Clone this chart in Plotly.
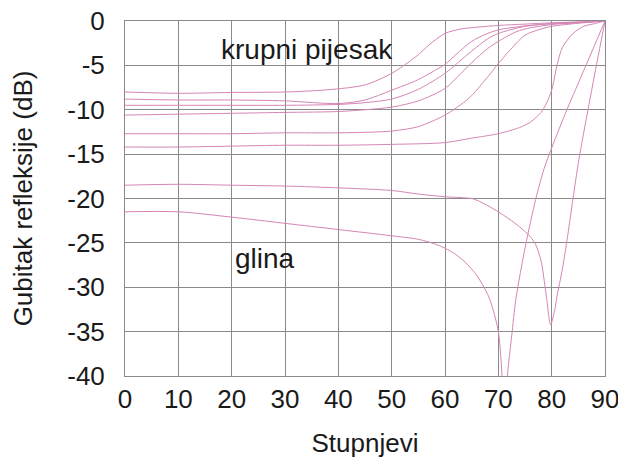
import plotly.graph_objects as go

# Angles (degrees) and reflection loss (dB) for each curve
a_x = [0, 10, 20, 30, 38, 45, 50, 53, 55, 57, 60, 63, 66, 70, 75, 80, 85, 90]
a_y = [-8.0, -8.15, -8.05, -8.0, -7.75, -7.2, -5.9, -4.7, -3.8, -2.7, -1.4, -0.9, -0.7, -0.5, -0.35, -0.2, -0.1, 0]

b_x = [0, 10, 20, 30, 40, 45, 50, 55, 58, 60, 62, 65, 68, 70, 75, 80, 85, 90]
b_y = [-8.8, -8.9, -8.9, -9.0, -9.3, -8.9, -7.8, -6.6, -5.6, -4.9, -3.8, -2.3, -1.4, -1.0, -0.55, -0.3, -0.15, 0]

c_x = [0, 10, 20, 30, 40, 45, 50, 55, 60, 63, 65, 68, 70, 75, 80, 85, 90]
c_y = [-9.5, -9.5, -9.5, -9.5, -9.4, -9.2, -8.8, -7.7, -5.9, -4.4, -3.4, -2.0, -1.4, -0.6, -0.3, -0.15, 0]

d_x = [0, 10, 20, 30, 40, 45, 50, 55, 60, 63, 65, 68, 70, 73, 75, 80, 85, 90]
d_y = [-10.6, -10.5, -10.4, -10.3, -10.2, -10.0, -9.7, -9.0, -7.6, -5.9, -4.7, -3.1, -2.3, -1.3, -0.9, -0.4, -0.2, 0]

e_x = [0, 10, 20, 30, 40, 50, 55, 60, 63, 65, 68, 70, 72, 75, 78, 80, 85, 90]
e_y = [-12.7, -12.7, -12.7, -12.6, -12.6, -12.4, -11.9, -10.6, -9.4, -8.4, -6.3, -4.8, -3.4, -1.6, -0.9, -0.6, -0.25, 0]

f_x = [0, 10, 20, 30, 40, 50, 60, 65, 70, 74, 76, 78, 79, 80, 81, 82, 84, 86, 88, 90]
f_y = [-14.2, -14.2, -14.1, -14.0, -14.0, -13.9, -13.7, -13.2, -12.7, -12.0, -11.4, -10.3, -9.3, -7.8, -5.0, -3.0, -1.4, -0.6, -0.3, 0]

g_x = [0, 10, 20, 30, 40, 50, 55, 60, 63, 65, 66, 68, 70, 72, 74, 76, 77, 78, 79, 79.8, 80.6, 81, 82, 83, 84, 85, 86, 87, 88, 89, 90]
g_y = [-18.5, -18.4, -18.5, -18.6, -18.8, -19.1, -19.5, -19.8, -19.9, -20.0, -20.2, -20.8, -21.5, -22.3, -23.2, -24.3, -25.2, -27.0, -31.0, -34.2, -32.5, -31.0, -28.0, -24.2, -20.0, -16.0, -12.6, -9.4, -6.2, -3.1, 0]

h_x = [0, 10, 20, 30, 40, 50, 55, 58, 60, 62, 64, 66, 68, 69, 70, 70.6, 71.1, 71.7, 72.5, 73.3, 75.1, 77, 78.6, 80, 83, 86, 90]
h_y = [-21.5, -21.5, -22.1, -22.8, -23.5, -24.2, -24.6, -25.1, -25.6, -26.3, -27.3, -28.7, -30.8, -32.5, -35.0, -39.0, -46.0, -40.0, -35.5, -31.3, -25.3, -20.1, -16.6, -14.3, -9.8, -5.6, 0]

curves = [(a_x, a_y), (b_x, b_y), (c_x, c_y), (d_x, d_y), (e_x, e_y), (f_x, f_y), (g_x, g_y), (h_x, h_y)]

x_ticks = [0, 10, 20, 30, 40, 50, 60, 70, 80, 90]
y_ticks = [0, -5, -10, -15, -20, -25, -30, -35, -40]

labels = [("krupni pijesak", 34.2, -3.2), ("glina", 26.2, -26.8)]

FONT = "Arial, Liberation Sans, sans-serif"
LINE_COLOR = "#d585b6"
GRID = "#8a8a8a"

fig = go.Figure()
for xs, ys in curves:
    fig.add_trace(go.Scatter(x=xs, y=ys, mode="lines",
                             line=dict(color=LINE_COLOR, width=1, shape="spline", smoothing=0.8),
                             showlegend=False, hoverinfo="skip"))

for text, lx, ly in labels:
    fig.add_annotation(x=lx, y=ly, text=text, showarrow=False,
                       font=dict(family=FONT, size=28, color="#1a1a1a"),
                       xanchor="center", yanchor="middle")

fig.update_layout(
    width=618, height=459,
    margin=dict(l=125, r=13, t=21, b=83, autoexpand=False),
    paper_bgcolor="white", plot_bgcolor="white",
    font=dict(family=FONT, size=26, color="#1a1a1a"),
)
fig.update_xaxes(
    range=[0, 90], tickvals=x_ticks, ticktext=[str(v) for v in x_ticks],
    showgrid=True, gridcolor=GRID, gridwidth=1, zeroline=False,
    showline=True, mirror=True, linecolor=GRID, linewidth=1,
    ticks="outside", ticklen=0, tickcolor="rgba(0,0,0,0)",
    ticklabeloverflow="allow",
    tickfont=dict(size=26),
    title=dict(text="Stupnjevi", font=dict(size=26), standoff=20),
    automargin=False,
)
fig.update_yaxes(
    range=[-40, 0], tickvals=y_ticks, ticktext=[str(v) for v in y_ticks],
    showgrid=True, gridcolor=GRID, gridwidth=1, zeroline=False,
    showline=True, mirror=True, linecolor=GRID, linewidth=1,
    ticks="outside", ticklen=14, tickcolor="rgba(0,0,0,0)",
    tickfont=dict(size=26),
    title=dict(text="Gubitak refleksije (dB)", font=dict(size=26), standoff=27),
    automargin=False,
)

fig.write_html("out.html")
